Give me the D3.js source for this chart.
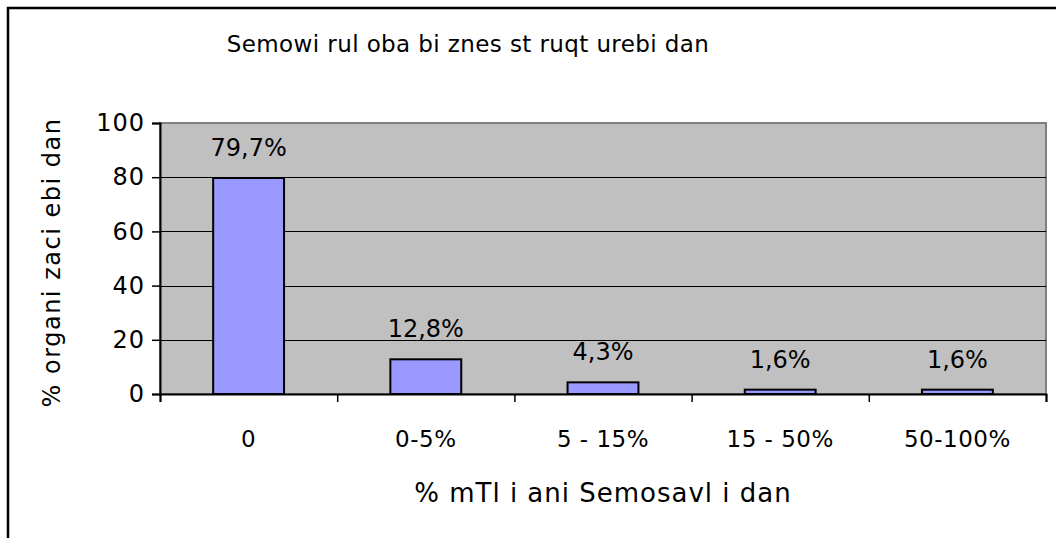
<!DOCTYPE html>
<html>
<head>
<meta charset="utf-8">
<script src="https://cdn.jsdelivr.net/npm/d3@7"></script>
<style>
  body { margin: 0; background: #fff; }
  svg { display: block; }
</style>
</head>
<body>
<script>
const categories = ['0', '0-5%', '5 - 15%', '15 - 50%', '50-100%'];
const values = [79.7, 12.8, 4.3, 1.6, 1.6];
const valueLabels = ['79,7%', '12,8%', '4,3%', '1,6%', '1,6%'];
const yTicks = [0, 20, 40, 60, 80, 100];
const title = 'Semowi rul oba bi znes st ruqt urebi dan';
const xTitle = '% mTl i ani Semosavl i dan';
const yTitle = '% organi zaci ebi dan';

const w = 1056, h = 538;
const plot = {left: 160, top: 123, right: 1046, bottom: 394};
const font = '"DejaVu Sans", Verdana, sans-serif';

const svg = d3.select('body').append('svg')
  .attr('width', w)
  .attr('height', h);

// outer chart frame
svg.append('rect')
  .attr('x', 8).attr('y', 8)
  .attr('width', w + 20).attr('height', h + 20)
  .attr('fill', '#fff')
  .attr('stroke', '#000')
  .attr('stroke-width', 2.5);

const x = d3.scaleBand()
  .domain(categories)
  .range([plot.left, plot.right])
  .paddingInner(0.6)
  .paddingOuter(0.3);

const y = d3.scaleLinear()
  .domain([0, 100])
  .range([plot.bottom, plot.top]);

// plot area
svg.append('rect')
  .attr('x', plot.left).attr('y', plot.top)
  .attr('width', plot.right - plot.left)
  .attr('height', plot.bottom - plot.top)
  .attr('fill', '#c0c0c0')
  .attr('stroke', '#808080')
  .attr('stroke-width', 2);

// gridlines
svg.append('g')
  .selectAll('line')
  .data(yTicks.filter(d => d > 0 && d < 100))
  .enter().append('line')
  .attr('x1', plot.left).attr('x2', plot.right)
  .attr('y1', d => Math.round(y(d)) + 0.5)
  .attr('y2', d => Math.round(y(d)) + 0.5)
  .attr('stroke', '#000')
  .attr('stroke-width', 1);

// bars
svg.append('g')
  .selectAll('rect')
  .data(values)
  .enter().append('rect')
  .attr('x', (d, i) => x(categories[i]))
  .attr('y', d => y(d))
  .attr('width', x.bandwidth())
  .attr('height', d => plot.bottom - y(d))
  .attr('fill', '#9999ff')
  .attr('stroke', '#000')
  .attr('stroke-width', 2);

// value labels
svg.append('g')
  .selectAll('text')
  .data(values)
  .enter().append('text')
  .attr('x', (d, i) => x(categories[i]) + x.bandwidth() / 2)
  .attr('y', d => y(d) - 22)
  .attr('text-anchor', 'middle')
  .style('font-family', font)
  .style('font-size', '24px')
  .text((d, i) => valueLabels[i]);

// y axis
const yAxis = d3.axisLeft(y)
  .tickValues(yTicks)
  .tickSize(8)
  .tickPadding(7);
const gy = svg.append('g')
  .attr('transform', 'translate(' + plot.left + ',0)')
  .call(yAxis);
gy.select('.domain').attr('stroke', '#000').attr('stroke-width', 2);
gy.selectAll('.tick line').attr('stroke', '#000').attr('stroke-width', 1.5);
gy.selectAll('.tick text')
  .style('font-family', font)
  .style('font-size', '24px')
  .style('letter-spacing', '1px')
  .attr('fill', '#000');

// x axis (ticks at band boundaries)
const xLin = d3.scaleLinear().domain([0, categories.length]).range([plot.left, plot.right]);
const xAxis = d3.axisBottom(xLin)
  .tickValues(d3.range(0, categories.length + 1))
  .tickFormat('')
  .tickSize(8);
const gx = svg.append('g')
  .attr('transform', 'translate(0,' + plot.bottom + ')')
  .call(xAxis);
gx.select('.domain').attr('stroke', '#000').attr('stroke-width', 2);
gx.selectAll('.tick line').attr('stroke', '#000').attr('stroke-width', 1.5);

svg.append('g')
  .selectAll('text')
  .data(categories)
  .enter().append('text')
  .attr('x', d => x(d) + x.bandwidth() / 2)
  .attr('y', 447)
  .attr('text-anchor', 'middle')
  .style('font-family', font)
  .style('font-size', '23px')
  .style('letter-spacing', '0.5px')
  .text(d => d);

// titles
svg.append('text')
  .attr('x', 468).attr('y', 52)
  .attr('text-anchor', 'middle')
  .style('font-family', font)
  .style('font-size', '23px')
  .style('letter-spacing', '0.4px')
  .text(title);

svg.append('text')
  .attr('x', 603).attr('y', 502)
  .attr('text-anchor', 'middle')
  .style('font-family', font)
  .style('font-size', '26px')
  .style('letter-spacing', '1px')
  .text(xTitle);

svg.append('text')
  .attr('transform', 'translate(60,' + ((plot.top + plot.bottom) / 2 + 4) + ') rotate(-90)')
  .attr('text-anchor', 'middle')
  .style('font-family', font)
  .style('font-size', '24px')
  .style('letter-spacing', '1.5px')
  .text(yTitle);
</script>
</body>
</html>
